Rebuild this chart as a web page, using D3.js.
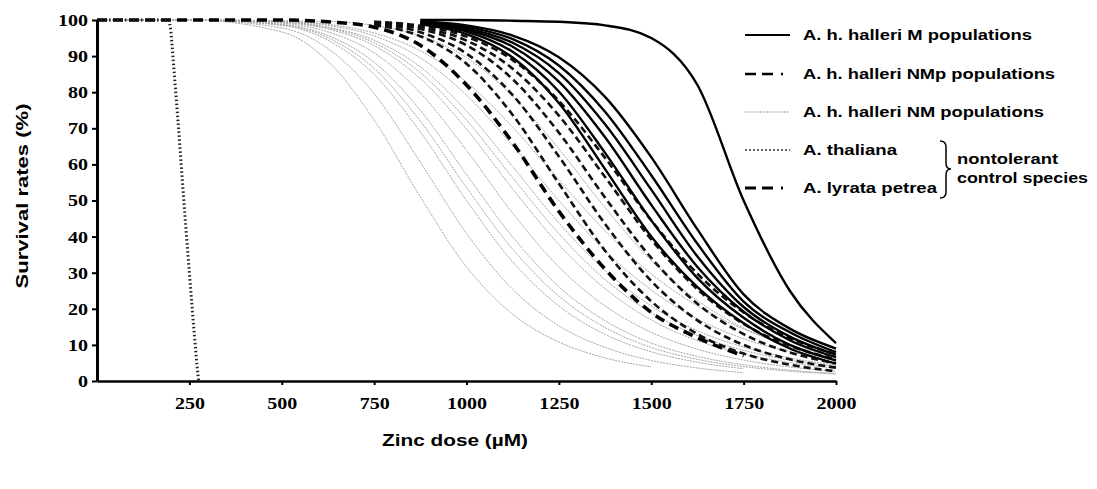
<!DOCTYPE html>
<html>
<head>
<meta charset="utf-8">
<script src="https://cdn.jsdelivr.net/npm/d3@7"></script>
<style>
  body { margin: 0; background: #fff; }
  .tick text { font-family: "Liberation Serif", "Times New Roman", serif; font-weight: bold; font-size: 17px; fill: #000; }
  .lbl { font-family: "Liberation Sans", Arial, sans-serif; font-weight: bold; fill: #000; }
</style>
</head>
<body>
<svg id="chart" width="1097" height="489"></svg>
<script>
const doses = [0, 250, 500, 625, 750, 875, 1000, 1125, 1250, 1375, 1500, 1625, 1750, 1875, 2000];

// A. h. halleri NM populations (grey)
const nmCurves = [
  [100, 100, 96.7, 88.6, 72.3, 51, 31.6, 18.5, 10.8, 6.4, 3.9],
  [100, 100, 97.8, 92.1, 79.6, 60.6, 40.9, 25.4, 15.3, 9.3, 5.7, 3.6, 2.3],
  [100, 100, 98.5, 94.4, 84.9, 69, 50, 33, 20.8, 12.9, 8.1, 5.2, 3.4],
  [100, 100, 98.7, 95.1, 86.6, 72, 53.6, 36.5, 23.5, 14.8, 9.3, 6, 4, 2.7, 1.9],
  [100, 100, 98.8, 95.7, 88.3, 75, 57.2, 39.9, 26.1, 16.7, 10.5, 6.8, 4.5, 3, 2.1],
  [100, 100, 99.1, 96.7, 90.9, 79.8, 63.9, 46.5, 31.6, 20.8, 13.5, 8.8, 5.8, 3.9, 2.7],
  [100, 100, 99.3, 97.5, 92.9, 83.8, 69.8, 53.2, 37.8, 25.6, 16.9, 11.2, 7.5, 5.1, 3.5],
  [100, 100, 99.4, 97.8, 93.7, 85.4, 72.3, 56.3, 40.8, 28.1, 18.9, 12.6, 8.5, 5.8, 4],
  [100, 100, 99.5, 98, 94.4, 87, 74.8, 59.4, 43.8, 30.6, 20.8, 13.9, 9.4, 6.4, 4.4],
  [100, 100, 99.6, 98.5, 95.6, 89.5, 79.2, 65.2, 50, 36.1, 25.2, 17.2, 11.7, 8.1, 5.6],
  [100, 100, 99.7, 98.8, 96.4, 91.5, 82.8, 70.3, 55.7, 41.6, 29.7, 20.8, 14.4, 10, 7],
  [100, 100, 99.8, 99.6, 98.5, 95.6, 89.6, 78.9, 64.3, 48, 33.4, 22.3, 14.7, 9.5, 6.3]
];

// A. h. halleri NMp populations (dashed)
const nmpCurves = [
  [null, null, null, null, 98.6, 95.5, 87.9, 73.7, 54.7, 36.1, 22.1, 13, 7.6, 4.5, 2.7],
  [null, null, null, null, 99, 96.6, 90.7, 79.2, 62.2, 43.5, 27.7, 16.8, 10, 6, 3.7],
  [null, null, null, null, 99.2, 97.5, 93, 83.6, 68.8, 50.8, 34.1, 21.4, 13, 7.9, 4.9],
  [null, null, null, null, 99.4, 98, 94.3, 86.5, 73.5, 56.5, 39.2, 25.4, 15.8, 9.8, 6],
  [null, null, null, null, 99.5, 98.4, 95.4, 88.9, 77.6, 61.8, 44.5, 29.7, 19, 11.9, 7.4]
];

// A. h. halleri M populations (solid)
const mCurves = [
  [null, null, null, null, null, 100, 100, 99.8, 99.5, 98.5, 95, 82, 50, 25, 10.5],
  [null, null, null, null, null, 98.8, 96.1, 89.6, 77, 58.7, 40, 26, 16, 9, 4.8],
  [null, null, null, null, null, 99, 96.8, 91.2, 80.2, 63.2, 44.5, 28.5, 17.5, 10, 5.7],
  [null, null, null, null, null, 99.2, 97.3, 92.6, 82.9, 67.5, 48.8, 31.6, 19.2, 11.3, 6.6],
  [null, null, null, null, null, 99.3, 97.7, 93.7, 85.3, 71.1, 53, 34.5, 20.5, 12.3, 7.3],
  [null, null, null, null, null, 99.4, 98.1, 94.7, 87.4, 74.6, 57, 38, 22, 13.5, 8],
  [null, null, null, null, null, 99.6, 98.5, 95.7, 89.7, 78.7, 62, 42, 24, 14.5, 9]
];

// A. lyrata petrea (control)
const lyrataValues = [100, 100, 100, 99.5, 98, 93, 82, 66, 47, 31, 19, 12, 7];

// A. thaliana (control)
const thalianaDoses = [0, 195, 200, 210, 220, 230, 240, 250, 260, 270, 275];
const thalianaValues = [100, 100, 97, 84, 71, 57, 43, 30, 17, 5, 0];

const xTicks = [250, 500, 750, 1000, 1250, 1500, 1750, 2000];
const yTicks = [0, 10, 20, 30, 40, 50, 60, 70, 80, 90, 100];

const legendLabels = ["A. h. halleri M populations", "A. h. halleri NMp populations",
                      "A. h. halleri NM populations", "A. thaliana", "A. lyrata petrea"];

const svg = d3.select("#chart");

// scales
const x = d3.scaleLinear().domain([0, 2000]).range([97, 836]);
const y = d3.scaleLinear().domain([0, 100]).range([381, 20]);

const line = d3.line()
  .defined(d => d[1] != null)
  .x(d => x(d[0]))
  .y(d => y(d[1]))
  .curve(d3.curveMonotoneX);

function pairs(vals, xs) {
  return vals.map((v, i) => [xs[i], v]);
}

const plot = svg.append("g");

// grey NM curves
plot.selectAll(".nm").data(nmCurves).enter().append("path")
  .attr("d", d => line(pairs(d, doses)))
  .attr("fill", "none")
  .attr("stroke", "#a6a6a6")
  .attr("stroke-width", 1)
  .attr("stroke-dasharray", "2,1");

// lyrata petrea
plot.append("path")
  .attr("d", line(pairs(lyrataValues, doses)))
  .attr("fill", "none")
  .attr("stroke", "#000")
  .attr("stroke-width", 3.6)
  .attr("stroke-dasharray", "10,6");

// NMp dashed curves
plot.selectAll(".nmp").data(nmpCurves).enter().append("path")
  .attr("d", d => line(pairs(d, doses)))
  .attr("fill", "none")
  .attr("stroke", "#111")
  .attr("stroke-width", 2.6)
  .attr("stroke-dasharray", "7,4");

// M solid curves
plot.selectAll(".m").data(mCurves).enter().append("path")
  .attr("d", d => line(pairs(d, doses)))
  .attr("fill", "none")
  .attr("stroke", "#000")
  .attr("stroke-width", 2.4);

// thaliana dotted
plot.append("path")
  .attr("d", line.curve(d3.curveLinear)(pairs(thalianaValues, thalianaDoses)))
  .attr("fill", "none")
  .attr("stroke", "#222")
  .attr("stroke-width", 3)
  .attr("stroke-dasharray", "1.5,2.5");

// y axis
const yAxis = svg.append("g")
  .attr("transform", "translate(97,0)")
  .call(d3.axisLeft(y).tickValues(yTicks).tickSize(5).tickSizeOuter(0).tickPadding(4));
yAxis.select(".domain").attr("stroke-width", 3);
yAxis.selectAll(".tick line").attr("stroke-width", 2);
yAxis.selectAll(".tick text")
  .attr("textLength", d => String(d).length * 10)
  .attr("lengthAdjust", "spacingAndGlyphs");

// x axis
const xAxis = svg.append("g")
  .attr("transform", "translate(0,381)")
  .call(d3.axisBottom(x).tickValues(xTicks).tickFormat(d3.format("d"))
        .tickSize(4).tickSizeOuter(0).tickPadding(12));
xAxis.select(".domain").attr("stroke-width", 2.5);
xAxis.selectAll(".tick line").attr("stroke-width", 2);
xAxis.selectAll(".tick text")
  .attr("textLength", d => String(d).length * 10)
  .attr("lengthAdjust", "spacingAndGlyphs");

// axis titles
svg.append("text").attr("class", "lbl")
  .attr("transform", "translate(28,196) rotate(-90)")
  .attr("text-anchor", "middle")
  .attr("font-size", 17)
  .attr("textLength", 185).attr("lengthAdjust", "spacingAndGlyphs")
  .text("Survival rates (%)");

svg.append("text").attr("class", "lbl")
  .attr("x", 455).attr("y", 446)
  .attr("text-anchor", "middle")
  .attr("font-size", 17)
  .attr("textLength", 146).attr("lengthAdjust", "spacingAndGlyphs")
  .text("Zinc dose (\u00b5M)");

// legend
const legendY = [35, 74, 112, 150, 188];
const legendLen = [229, 252, 241, 94, 134];
const legendStyle = [
  { stroke: "#000", width: 2, dash: null },
  { stroke: "#000", width: 2.5, dash: "11,6,11,8,2,100" },
  { stroke: "#999", width: 1, dash: "2,1" },
  { stroke: "#333", width: 1.5, dash: "2,2" },
  { stroke: "#000", width: 3, dash: "11,6,11,8,2,100" }
];
const legend = svg.append("g");
legendLabels.forEach((lab, i) => {
  legend.append("line")
    .attr("x1", 745).attr("x2", 790)
    .attr("y1", legendY[i]).attr("y2", legendY[i])
    .attr("stroke", legendStyle[i].stroke)
    .attr("stroke-width", legendStyle[i].width)
    .attr("stroke-dasharray", legendStyle[i].dash);
  legend.append("text").attr("class", "lbl")
    .attr("x", 803).attr("y", legendY[i] + 5)
    .attr("font-size", 15)
    .attr("textLength", legendLen[i]).attr("lengthAdjust", "spacingAndGlyphs")
    .text(lab);
});

// brace for the control species
legend.append("path")
  .attr("d", "M940,141 Q946,141 946,147 L946,163 Q946,169 951,169 Q946,169 946,175 L946,192 Q946,198 940,198")
  .attr("fill", "none")
  .attr("stroke", "#000")
  .attr("stroke-width", 1.5);
legend.append("text").attr("class", "lbl")
  .attr("x", 957).attr("y", 164)
  .attr("font-size", 15)
  .attr("textLength", 101).attr("lengthAdjust", "spacingAndGlyphs")
  .text("nontolerant");
legend.append("text").attr("class", "lbl")
  .attr("x", 957).attr("y", 183)
  .attr("font-size", 15)
  .attr("textLength", 131).attr("lengthAdjust", "spacingAndGlyphs")
  .text("control species");
</script>
</body>
</html>
